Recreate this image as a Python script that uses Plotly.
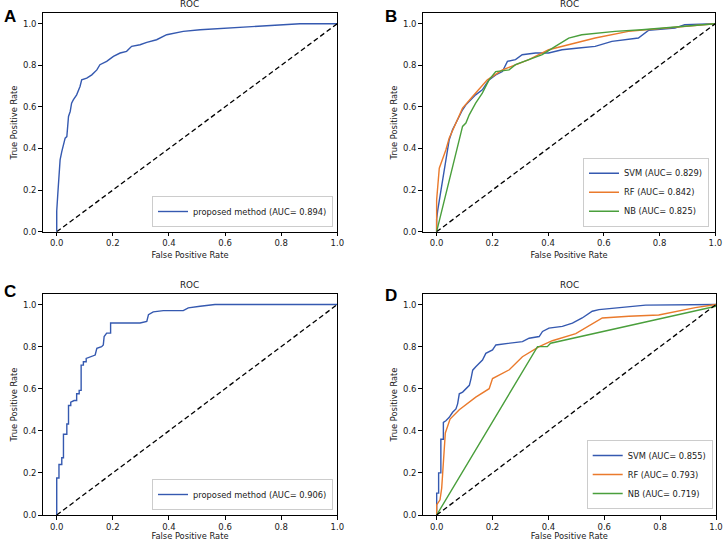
import plotly.graph_objects as go

# ---------------- data ----------------
# Panel A: proposed method
a_fpr = [0, 0.0, 0.004, 0.008, 0.012, 0.018, 0.024, 0.03, 0.036, 0.042, 0.048, 0.053, 0.059, 0.071,
         0.083, 0.089, 0.107, 0.125, 0.143, 0.154, 0.178, 0.202, 0.226, 0.249, 0.267, 0.297, 0.321,
         0.356, 0.392, 0.451, 0.511, 0.629, 0.748, 0.867, 1.0]
a_tpr = [0, 0.10, 0.185, 0.265, 0.345, 0.385, 0.425, 0.45, 0.457, 0.554, 0.578, 0.618, 0.634, 0.658,
         0.698, 0.730, 0.738, 0.754, 0.778, 0.803, 0.819, 0.843, 0.859, 0.867, 0.891, 0.899, 0.910,
         0.923, 0.947, 0.963, 0.971, 0.979, 0.990, 1.0, 1.0]

# Panel B
b_svm_fpr = [0, 0.0, 0.004, 0.012, 0.018, 0.024, 0.033, 0.045, 0.057, 0.069, 0.081, 0.093, 0.105, 0.123,
             0.140, 0.164, 0.182, 0.188, 0.212, 0.236, 0.254, 0.283, 0.307, 0.355, 0.402, 0.45, 0.510,
             0.569, 0.629, 0.688, 0.724, 0.760, 0.807, 0.855, 0.890, 1.0]
b_svm_tpr = [0, 0.06, 0.104, 0.169, 0.217, 0.281, 0.361, 0.441, 0.490, 0.522, 0.554, 0.586, 0.610, 0.634,
             0.658, 0.682, 0.714, 0.730, 0.754, 0.770, 0.819, 0.827, 0.851, 0.859, 0.859, 0.875, 0.883,
             0.891, 0.915, 0.926, 0.931, 0.968, 0.974, 0.979, 0.995, 1.0]
b_rf_fpr = [0, 0.0, 0.0095, 0.033, 0.045, 0.093, 0.129, 0.182, 0.236, 0.283, 0.331, 0.402, 0.474,
            0.569, 0.688, 0.760, 0.879, 1.0]
b_rf_tpr = [0, 0.152, 0.305, 0.393, 0.449, 0.594, 0.650, 0.730, 0.778, 0.803, 0.827, 0.875, 0.899,
            0.931, 0.963, 0.971, 0.987, 1.0]
b_nb_fpr = [0, 0.093, 0.105, 0.117, 0.140, 0.164, 0.188, 0.212, 0.260, 0.283, 0.331, 0.379, 0.426,
            0.474, 0.521, 0.640, 0.736, 0.807, 0.926, 1.0]
b_nb_tpr = [0, 0.506, 0.522, 0.562, 0.618, 0.666, 0.730, 0.770, 0.778, 0.803, 0.827, 0.851, 0.891,
            0.931, 0.947, 0.963, 0.971, 0.979, 0.995, 1.0]

# Panel C: proposed method (step curve)
c_fpr = [0, 0, 0.008, 0.008, 0.018, 0.018, 0.024, 0.024, 0.036, 0.036, 0.042, 0.042, 0.050, 0.050,
         0.062, 0.071, 0.071, 0.080, 0.080, 0.087, 0.087, 0.095, 0.095, 0.105, 0.105, 0.125, 0.137,
         0.143, 0.160, 0.166, 0.169, 0.178, 0.192, 0.192, 0.297, 0.321, 0.327, 0.344, 0.380, 0.451,
         0.469, 0.511, 0.564, 1.0]
c_tpr = [0, 0.176, 0.176, 0.240, 0.240, 0.272, 0.272, 0.384, 0.384, 0.432, 0.432, 0.520, 0.520, 0.536,
         0.544, 0.544, 0.576, 0.576, 0.592, 0.592, 0.712, 0.712, 0.728, 0.728, 0.744, 0.752, 0.760,
         0.792, 0.800, 0.808, 0.848, 0.864, 0.864, 0.912, 0.912, 0.920, 0.952, 0.965, 0.971, 0.971,
         0.984, 0.992, 1.0, 1.0]

# Panel D
d_svm_fpr = [0, 0, 0.007, 0.007, 0.015, 0.015, 0.024, 0.024, 0.033, 0.045, 0.057, 0.069, 0.075, 0.081,
             0.093, 0.105, 0.117, 0.123, 0.129, 0.140, 0.152, 0.164, 0.176, 0.2, 0.212, 0.260, 0.307,
             0.331, 0.367, 0.379, 0.402, 0.45, 0.486, 0.521, 0.557, 0.581, 0.640, 0.688, 0.748, 1.0]
d_svm_tpr = [0, 0.104, 0.104, 0.2, 0.2, 0.36, 0.36, 0.44, 0.448, 0.464, 0.488, 0.504, 0.528, 0.576,
             0.584, 0.6, 0.616, 0.648, 0.688, 0.704, 0.72, 0.736, 0.768, 0.784, 0.808, 0.816, 0.824,
             0.84, 0.848, 0.872, 0.888, 0.896, 0.912, 0.936, 0.968, 0.976, 0.984, 0.992, 0.997, 1.0]
d_rf_fpr = [0, 0, 0.012, 0.018, 0.031, 0.048, 0.081, 0.140, 0.188, 0.2, 0.260, 0.307, 0.367, 0.414,
            0.498, 0.593, 0.688, 0.795, 0.926, 1.0]
d_rf_tpr = [0, 0.048, 0.072, 0.128, 0.390, 0.456, 0.50, 0.56, 0.60, 0.648, 0.69, 0.752, 0.80, 0.828,
            0.862, 0.936, 0.944, 0.95, 0.985, 1.0]
d_nb_fpr = [0, 0.361, 0.396, 0.408, 1.0, 1.0]
d_nb_tpr = [0, 0.80, 0.80, 0.816, 0.992, 1.0]

diag = [0, 1]

a_names = ["proposed method (AUC= 0.894)"]
b_names = ["SVM (AUC= 0.829)", "RF (AUC= 0.842)", "NB (AUC= 0.825)"]
c_names = ["proposed method (AUC= 0.906)"]
d_names = ["SVM (AUC= 0.855)", "RF (AUC= 0.793)", "NB (AUC= 0.719)"]
panel_labels = ["A", "B", "C", "D"]
tick_vals = [0, 0.2, 0.4, 0.6, 0.8, 1.0]

BLUE = "#3559b0"
ORANGE = "#ea7a2c"
GREEN = "#4a9f3c"
FONT = "DejaVu Sans"
TXT = "#1a1a1a"

W, H = 725, 541

# domains (pixel -> paper)
def xd(l, r):
    return [l / W, r / W]

def yd(t, b):
    return [1 - b / H, 1 - t / H]

domains = [
    (xd(42.7, 337.3), yd(13.3, 231.7)),
    (xd(422.7, 715.3), yd(13.3, 231.7)),
    (xd(42.7, 337.3), yd(294, 515)),
    (xd(422.7, 716), yd(294, 515)),
]

fig = go.Figure()

panels = [
    [(a_fpr, a_tpr, a_names[0], BLUE)],
    [(b_svm_fpr, b_svm_tpr, b_names[0], BLUE), (b_rf_fpr, b_rf_tpr, b_names[1], ORANGE),
     (b_nb_fpr, b_nb_tpr, b_names[2], GREEN)],
    [(c_fpr, c_tpr, c_names[0], BLUE)],
    [(d_svm_fpr, d_svm_tpr, d_names[0], BLUE), (d_rf_fpr, d_rf_tpr, d_names[1], ORANGE),
     (d_nb_fpr, d_nb_tpr, d_names[2], GREEN)],
]

legend_pos = [
    (333 / W, 1 - 227 / H),
    (709 / W, 1 - 226.7 / H),
    (333 / W, 1 - 510 / H),
    (712.7 / W, 1 - 509 / H),
]

label_pos = [(2, 5), (383, 5), (2, 280), (383, 284)]

layout = dict(
    width=W, height=H,
    margin=dict(l=0, r=0, t=0, b=0, autoexpand=False),
    paper_bgcolor="white", plot_bgcolor="white",
    font=dict(family=FONT, size=8.5, color=TXT),
    showlegend=True,
)

annotations = []
for i, (traces, (xdom, ydom)) in enumerate(zip(panels, domains)):
    n = "" if i == 0 else str(i + 1)
    xa, ya = "x" + n, "y" + n
    lg = "legend" + n
    for (xs, ys, name, col) in traces:
        fig.add_trace(go.Scatter(x=xs, y=ys, mode="lines", name=name,
                                 line=dict(color=col, width=1.4),
                                 xaxis=xa, yaxis=ya, legend=lg))
    # diagonal
    fig.add_trace(go.Scatter(x=diag, y=diag, mode="lines", showlegend=False,
                             line=dict(color="black", width=1.3, dash="5px,3px"),
                             xaxis=xa, yaxis=ya))
    axis_common = dict(showgrid=False, zeroline=False, showline=True, linecolor="black",
                       linewidth=1, mirror=True, ticks="outside", ticklen=3.5,
                       tickcolor="black", tickwidth=0.8, tickvals=tick_vals,
                       tickformat=".1f", tickfont=dict(size=8.5, family=FONT, color=TXT))
    layout["xaxis" + n] = dict(domain=xdom, range=[-0.05, 1.0], anchor=ya,
                               title=dict(text="False Positive Rate", standoff=4,
                                          font=dict(size=8.3, family=FONT, color=TXT)),
                               **axis_common)
    layout["yaxis" + n] = dict(domain=ydom, range=[0, 1.05], anchor=xa,
                               title=dict(text="True Positive Rate", standoff=4,
                                          font=dict(size=8.3, family=FONT, color=TXT)),
                               **axis_common)
    lx, ly = legend_pos[i]
    layout[lg] = dict(x=lx, y=ly, xanchor="right", yanchor="bottom",
                      xref="paper", yref="paper",
                      bgcolor="white", bordercolor="#cccccc", borderwidth=1,
                      font=dict(size=8.3, family=FONT, color=TXT),
                      itemwidth=30, tracegroupgap=0)
    # title
    annotations.append(dict(text="ROC", x=(xdom[0] + xdom[1]) / 2, y=ydom[1],
                            xref="paper", yref="paper", xanchor="center", yanchor="bottom",
                            yshift=2, showarrow=False,
                            font=dict(size=8.8, family=FONT, color=TXT)))
    # panel label
    px, py = label_pos[i]
    annotations.append(dict(text="<b>" + panel_labels[i] + "</b>", x=px / W, y=1 - py / H,
                            xref="paper", yref="paper", xanchor="left", yanchor="top",
                            showarrow=False,
                            font=dict(size=17, family="Liberation Sans", color="black")))

layout["annotations"] = annotations
fig.update_layout(**layout)
fig.write_html("out.html", config={"displayModeBar": False},
               post_script="document.body.style.margin='0';document.body.style.overflow='hidden';")
